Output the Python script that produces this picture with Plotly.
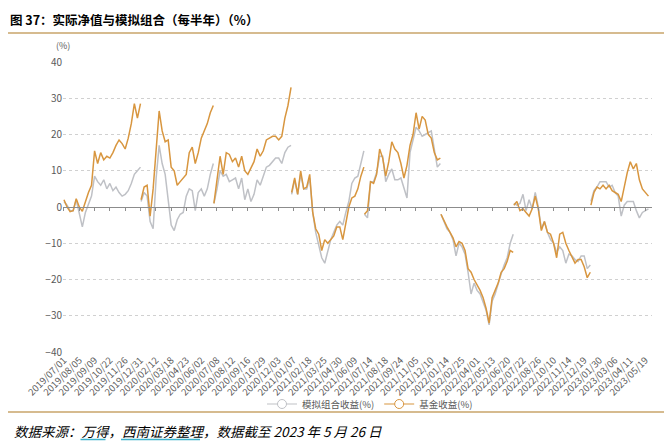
import plotly.graph_objects as go

# ---------------- data ----------------
tick_labels = [
    "2019/07/01", "2019/08/05", "2019/09/09", "2019/10/22", "2019/11/26", "2019/12/31",
    "2020/02/12", "2020/03/18", "2020/04/23", "2020/06/02", "2020/07/08", "2020/08/12",
    "2020/09/16", "2020/10/29", "2020/12/03", "2021/01/07", "2021/02/18", "2021/03/25",
    "2021/04/30", "2021/06/09", "2021/07/14", "2021/08/18", "2021/09/24", "2021/11/05",
    "2021/12/10", "2022/01/14", "2022/02/25", "2022/04/01", "2022/05/13", "2022/06/20",
    "2022/07/22", "2022/08/26", "2022/10/10", "2022/11/14", "2022/12/19", "2023/01/30",
    "2023/03/06", "2023/04/11", "2023/05/19",
]
tick_step = 25  # trading days between date labels

# half-year periods: first / last trading-day index of each period
period_start = [0, 126, 245, 372, 491, 616, 735, 861]
period_end = [125, 244, 371, 490, 615, 734, 860, 955]

# fund return (%), sampled about every 5 trading days
fund_2019h2 = [2, 0, -1.3, -1, 2.3, 0, -1.2, 1.5, 4, 6, 15.5, 12, 15, 13, 14, 13.5, 15, 17, 18.5,
               17.5, 16, 19, 23, 28.5, 24.5, 28.5]
fund_2020h1 = [2, 5.5, 6, -2.5, 5, 16, 26.5, 21, 18, 18.5, 11, 10, 6, 7, 8, 9, 15, 16.5, 12, 15,
               19, 21, 23, 26, 28]
fund_2020h2 = [1, 7, 14, 9, 15, 14.5, 12.5, 13.5, 11, 14, 10, 9, 11, 12.5, 16, 14, 15.5, 18.5,
               19, 19.5, 19.5, 18.5, 19.5, 24.5, 28, 33]
fund_2021h1 = [4, 8, 3.5, 10, 5, 5.5, 9, -1.5, -6, -7.5, -12, -9, -10, -9, -8, -5.5, -5.5, -9, -5,
               0, 2.5, 3, 5, 8.5, 11]
fund_2021h2 = [-2, -1, 7, 6.5, 9, 16, 13.5, 8.5, 12.5, 18, 16, 15, 12, 8, 11.5, 17, 20, 26, 21.5,
               25, 24, 20, 19, 15, 13, 13.5]
fund_2022h1 = [-2, -4, -5.5, -7, -8.5, -11, -9.5, -10, -12, -17, -18, -20, -21.5, -23, -25, -28,
               -32, -25, -23, -21, -18, -17, -15, -12, -12.5]
fund_2022h2 = [0.5, 1.5, -1, -0.5, -1.5, -2.5, -0.5, 3, -0.5, -6.5, -4, -7, -7.5, -10, -14, -7.5,
               -7, -10, -12, -14, -15.5, -14.5, -14.5, -16.5, -19.5, -18]
fund_2023h1 = [0.5, 4, 5.5, 5, 6, 5, 6, 4.5, 4, 3.5, 1.5, 6, 9.5, 12.5, 10.5, 12, 7.5, 5, 4, 3]

# simulated portfolio return (%)
sim_2019h2 = [1.5, 0.5, -1, -1, 2, -2, -5.5, -1.5, 1, 3, 8.5, 7, 6, 7.5, 5, 6.5, 4.5, 5.5, 4, 3,
              3.5, 4.5, 6.5, 9, 10, 11]
sim_2020h1 = [1.5, 4, 3, -4, -6, 8, 17, 12, 9, 2, -5, -6.5, -3.5, -2, -1.5, 3, 5, 4.5, -1, 4, 5,
              3, 5, 9, 12]
sim_2020h2 = [1, 5, 10, 8.5, 9, 7, 7.5, 8, 5, 8, 2, 5, 1.5, 3.5, 7.5, 6, 8.5, 11, 11.5, 12.5,
              13.5, 13.5, 12, 15, 16.5, 17]
sim_2021h1 = [3.5, 7.5, 3.5, 9, 5, 5, 8, -1.5, -7, -11, -14, -15.5, -12, -9, -7, -5, -4, -5,
              -1.5, 1.5, 6.5, 8, 8.5, 12, 15.5]
sim_2021h2 = [-2, -3, 7, 7, 9.5, 14, 14, 7, 9, 10.5, 7.5, 7.5, 8, 5, 2.5, 15, 18.5, 22, 21, 19.5,
              20, 20.5, 21, 16, 11, 12]
sim_2022h1 = [-2, -4, -6, -7, -9, -13.5, -10, -11, -13, -18, -24, -21, -23, -24, -26, -28.5,
              -32.5, -26, -24, -21, -18.5, -16, -14, -10, -7.5]
sim_2022h2 = [1, 0.5, 1, 3.5, -1, 2, -0.5, 4, 0, -6, -4, -7, -9, -10, -12.5, -11, -12, -15.5, -13,
              -13.5, -14.5, -15, -13.5, -13.5, -17, -16]
sim_2023h1 = [1.5, 4.5, 5.5, 7, 7, 7, 5.5, 6, 4, 3, -2.5, 0.5, 1.5, 1.5, 1.5, -1, -3, -1.5, -1,
              -0.5]

fund_periods = [fund_2019h2, fund_2020h1, fund_2020h2, fund_2021h1,
                fund_2021h2, fund_2022h1, fund_2022h2, fund_2023h1]
sim_periods = [sim_2019h2, sim_2020h1, sim_2020h2, sim_2021h1,
               sim_2021h2, sim_2022h1, sim_2022h2, sim_2023h1]

series_names = ["模拟组合收益(%)", "基金收益(%)"]
title_text = "图 37：实际净值与模拟组合（每半年）（%）"
source_text = "数据来源：万得，西南证券整理，数据截至 2023 年 5 月 26 日"


def build(periods):
    xs, ys = [], []
    for s, e, vals in zip(period_start, period_end, periods):
        n = len(vals)
        for i, v in enumerate(vals):
            xs.append(s + (e - s) * i / (n - 1))
            ys.append(v)
        xs.append(None)
        ys.append(None)
    return xs, ys


sim_x, sim_y = build(sim_periods)
fund_x, fund_y = build(fund_periods)
tick_vals = [i * tick_step for i in range(len(tick_labels))]

GRAY = "#BFC1C6"
ORANGE = "#D8963F"
GOLD = "#C8A46A"
CYAN = "#3FB2CC"
FONT = "Noto Sans CJK SC"

# layout geometry (pixels)
W, H = 664, 446
ML, MR, MT, MB = 63, 12, 62, 94
PW, PH = W - ML - MR, H - MT - MB


def px_x(x):
    return (x - ML) / PW


def px_y(y):
    return (H - MB - y) / PH


SRC_SIZE = 13.5
SRC_X0 = 12

fig = go.Figure()
fig.add_trace(go.Scatter(x=sim_x, y=sim_y, mode="lines", line=dict(color=GRAY, width=1.5),
                         showlegend=False, hoverinfo="skip"))
fig.add_trace(go.Scatter(x=fund_x, y=fund_y, mode="lines", line=dict(color=ORANGE, width=1.5),
                         showlegend=False, hoverinfo="skip"))
# legend entries
for name, col in zip(series_names, [GRAY, ORANGE]):
    fig.add_trace(go.Scatter(x=[None], y=[None], mode="lines+markers", name=name,
                             line=dict(color=col, width=1.2),
                             marker=dict(symbol="circle", size=9, color="white",
                                         line=dict(color=col, width=1))))
# zero axis line with ticks
fig.add_trace(go.Scatter(x=[tick_vals[0]], y=[None], xaxis="x2", showlegend=False,
                         hoverinfo="skip"))

# spell-check style underlines under "万得" and "西南证券整理"
underlines = []
for c0, c1 in [(5, 7), (8, 14)]:
    underlines.append(dict(type="line", xref="paper", yref="paper",
                           x0=px_x(SRC_X0 + c0 * SRC_SIZE + 1), x1=px_x(SRC_X0 + c1 * SRC_SIZE - 1),
                           y0=px_y(439.5), y1=px_y(439.5), line=dict(color=CYAN, width=1.5)))

fig.update_layout(
    width=W, height=H,
    margin=dict(l=ML, r=MR, t=MT, b=MB),
    paper_bgcolor="white", plot_bgcolor="white",
    font=dict(family=FONT, color="#595959"),
    xaxis=dict(range=[-1.6, 960.8], tickvals=tick_vals, ticktext=tick_labels, tickangle=-45,
               tickfont=dict(size=9.5, color="#595959"), showgrid=False, zeroline=False,
               showline=False, ticks=""),
    xaxis2=dict(overlaying="x", matches="x", anchor="free", position=0.5, showline=True,
                linecolor="#8C8C8C", linewidth=1.2, ticks="outside", ticklen=3,
                tickcolor="#8C8C8C", tickvals=tick_vals, showticklabels=False, showgrid=False,
                zeroline=False),
    yaxis=dict(range=[-40, 40], dtick=10, showgrid=True, gridcolor="#D0D0D0", griddash="3px,3px",
               gridwidth=1, zeroline=False, showline=False, ticks="",
               tickfont=dict(size=10, color="#595959")),
    legend=dict(orientation="h", x=px_x(370), xanchor="center", y=px_y(404), yanchor="middle",
                font=dict(size=9.5, color="#595959"), bgcolor="rgba(0,0,0,0)",
                itemwidth=30, tracegroupgap=0),
    annotations=[
        dict(text="(%)", xref="paper", yref="paper", x=0, y=px_y(45), xanchor="center",
             yanchor="middle", showarrow=False, font=dict(size=9, color="#595959")),
        dict(text="<b>" + title_text + "</b>", xref="paper", yref="paper", x=px_x(8),
             y=px_y(19), xanchor="left", yanchor="middle", showarrow=False,
             font=dict(size=12.5, color="#000000", family=FONT)),
        dict(text="<i>" + source_text + "</i>", xref="paper", yref="paper", x=px_x(SRC_X0),
             y=px_y(431), xanchor="left", yanchor="middle", showarrow=False,
             font=dict(size=SRC_SIZE, color="#000000", family=FONT)),
    ],
    shapes=[
        dict(type="line", xref="paper", yref="paper", x0=px_x(8), x1=px_x(664), y0=px_y(33),
             y1=px_y(33), line=dict(color=GOLD, width=1.5)),
        dict(type="line", xref="paper", yref="paper", x0=px_x(8), x1=px_x(664), y0=px_y(412),
             y1=px_y(412), line=dict(color=GOLD, width=1.5)),
    ] + underlines,
)

fig.write_html("out.html")
